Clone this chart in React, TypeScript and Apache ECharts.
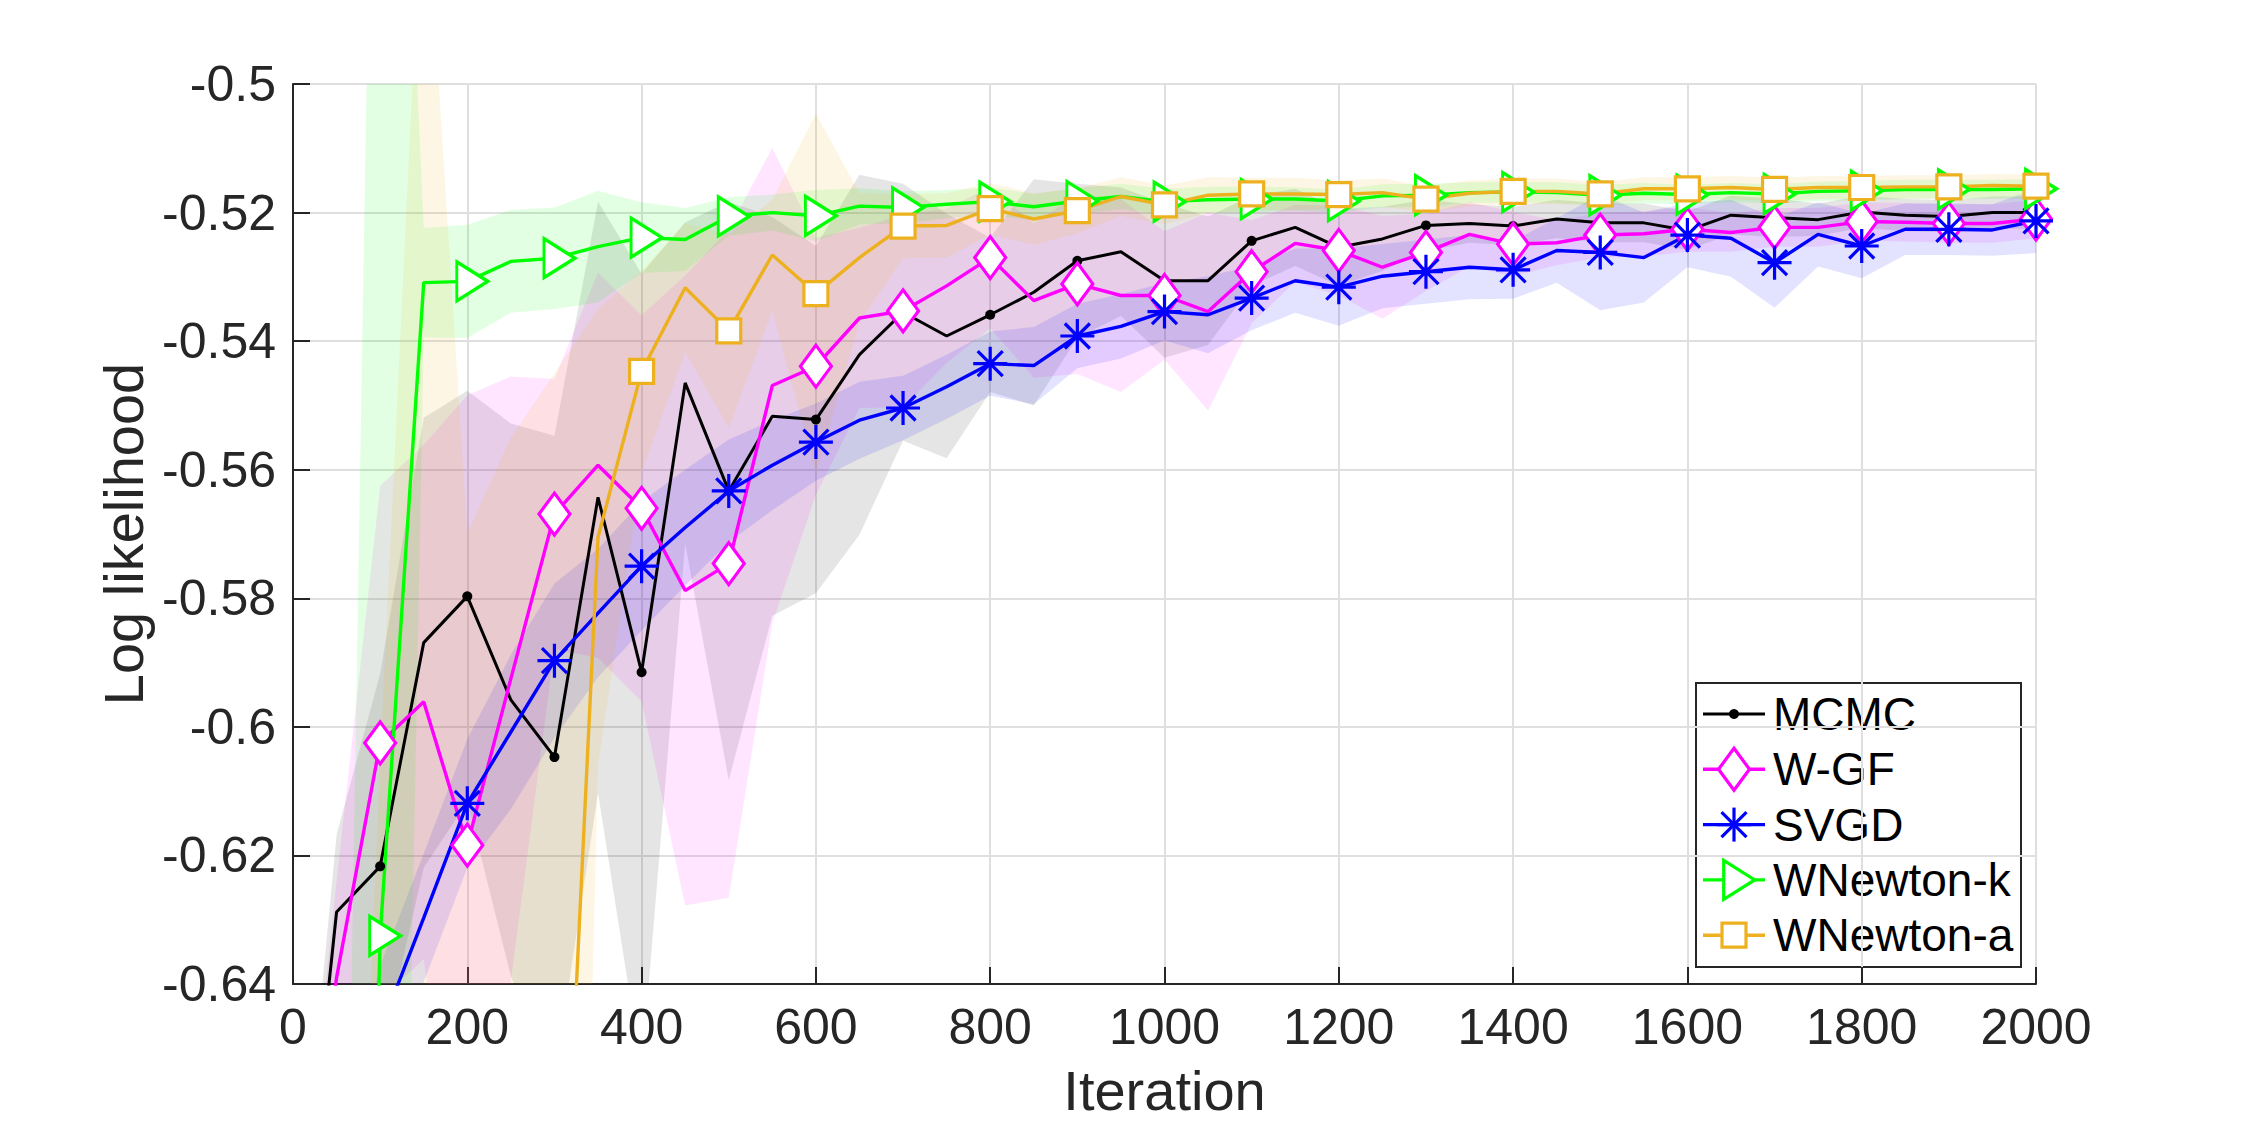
import React, { useEffect, useRef } from 'react';
import * as echarts from 'echarts';

const FONT = '"Liberation Sans", Arial, Helvetica, sans-serif';

const ITER = [0, 50, 100, 150, 200, 250, 300, 350, 400, 450, 500, 550, 600, 650, 700, 750, 800, 850, 900, 950, 1000, 1050, 1100, 1150, 1200, 1250, 1300, 1350, 1400, 1450, 1500, 1550, 1600, 1650, 1700, 1750, 1800, 1850, 1900, 1950, 2000];

const X_TICK_STEP = 200;
const Y_TICKS = { min: -0.64, max: -0.5, interval: 0.02 };

const MCMC_MEAN = [-0.693, -0.6288, -0.6217, -0.5869, -0.5797, -0.5958, -0.6047, -0.5643, -0.5915, -0.5465, -0.5633, -0.5517, -0.5522, -0.5421, -0.5355, -0.5392, -0.5359, -0.5324, -0.5275, -0.5261, -0.5306, -0.5306, -0.5244, -0.5223, -0.5254, -0.5241, -0.5220, -0.5217, -0.5221, -0.5210, -0.5216, -0.5216, -0.5228, -0.5204, -0.5208, -0.5211, -0.5199, -0.5204, -0.5206, -0.5200, -0.5200];
const MCMC_STD = [0.005, 0.012, 0.03, 0.035, 0.032, 0.043, 0.05, 0.046, 0.062, 0.025, 0.045, 0.031, 0.027, 0.028, 0.02, 0.019, 0.012, 0.0176, 0.012, 0.01, 0.012, 0.01, 0.007, 0.006, 0.006, 0.005, 0.004, 0.003, 0.003, 0.003, 0.003, 0.003, 0.003, 0.003, 0.003, 0.0025, 0.0025, 0.0025, 0.0025, 0.0025, 0.0025];

const WGF_MEAN = [-0.693, -0.639, -0.6025, -0.5961, -0.6184, -0.5925, -0.5669, -0.5593, -0.5660, -0.5788, -0.5746, -0.5469, -0.5439, -0.5364, -0.5353, -0.5314, -0.5270, -0.5337, -0.5311, -0.5329, -0.5329, -0.5354, -0.5292, -0.5248, -0.5259, -0.5285, -0.5262, -0.5234, -0.5249, -0.5247, -0.5235, -0.5233, -0.5226, -0.5231, -0.5223, -0.5223, -0.5214, -0.5215, -0.5217, -0.5217, -0.5210];
const WGF_STD = [0.005, 0.015, 0.04, 0.04, 0.07, 0.047, 0.021, 0.03, 0.03, 0.049, 0.052, 0.037, 0.02, 0.014, 0.015, 0.012, 0.011, 0.012, 0.014, 0.015, 0.01, 0.0154, 0.008, 0.006, 0.007, 0.008, 0.006, 0.005, 0.005, 0.0035, 0.0035, 0.0035, 0.0035, 0.003, 0.003, 0.003, 0.003, 0.003, 0.003, 0.003, 0.003];

const SVGD_MEAN = [-0.693, -0.670, -0.6472, -0.6297, -0.6119, -0.6008, -0.5897, -0.5823, -0.5750, -0.5690, -0.5633, -0.5593, -0.5557, -0.5523, -0.5504, -0.5471, -0.5435, -0.5438, -0.5392, -0.5377, -0.5354, -0.5359, -0.5333, -0.5306, -0.5316, -0.5299, -0.5292, -0.5285, -0.5289, -0.5259, -0.5262, -0.5270, -0.5235, -0.5240, -0.5278, -0.5234, -0.5252, -0.5226, -0.5226, -0.5227, -0.5213];
const SVGD_STD = [0.005, 0.008, 0.01, 0.01, 0.01, 0.012, 0.012, 0.01, 0.01, 0.009, 0.008, 0.007, 0.006, 0.006, 0.005, 0.005, 0.005, 0.006, 0.005, 0.005, 0.0045, 0.006, 0.005, 0.005, 0.006, 0.005, 0.005, 0.005, 0.0045, 0.005, 0.009, 0.007, 0.005, 0.006, 0.007, 0.005, 0.005, 0.004, 0.004, 0.004, 0.005];

const WNK_MEAN = [-0.693, -0.92, -0.6325, -0.5309, -0.5307, -0.5276, -0.5271, -0.5253, -0.5239, -0.5242, -0.5206, -0.5200, -0.5205, -0.5190, -0.5192, -0.5187, -0.5183, -0.5191, -0.5182, -0.5175, -0.5183, -0.5180, -0.5179, -0.5179, -0.5182, -0.5174, -0.5173, -0.5169, -0.5168, -0.5169, -0.5173, -0.5170, -0.5172, -0.5169, -0.5171, -0.5167, -0.5166, -0.5164, -0.5164, -0.5164, -0.5163];
const WNK_STD = [0.005, 0.14, 0.26, 0.0085, 0.0088, 0.008, 0.0079, 0.0087, 0.0055, 0.0049, 0.003, 0.0028, 0.004, 0.0028, 0.0025, 0.0022, 0.0022, 0.002, 0.002, 0.002, 0.002, 0.002, 0.002, 0.0018, 0.0018, 0.0018, 0.0018, 0.0016, 0.0016, 0.0016, 0.0016, 0.0016, 0.0015, 0.0015, 0.0015, 0.0015, 0.0015, 0.0015, 0.0015, 0.0015, 0.0015];

const WNA_MEAN = [-0.693, -0.80, -0.78, -0.75, -0.78, -0.75, -0.711, -0.5705, -0.5447, -0.5317, -0.5384, -0.5266, -0.5326, -0.5270, -0.5221, -0.5220, -0.5194, -0.5210, -0.5197, -0.5175, -0.5188, -0.5173, -0.5171, -0.5171, -0.5172, -0.5169, -0.5179, -0.5170, -0.5167, -0.5167, -0.5171, -0.5163, -0.5163, -0.5161, -0.5164, -0.5161, -0.5161, -0.5160, -0.5160, -0.5158, -0.5159];
const WNA_STD = [0.005, 0.03, 0.175, 0.287, 0.21, 0.195, 0.166, 0.0355, 0.0157, 0.01, 0.015, 0.0086, 0.028, 0.01, 0.005, 0.005, 0.004, 0.004, 0.0035, 0.003, 0.003, 0.0028, 0.0025, 0.0025, 0.0022, 0.0022, 0.002, 0.002, 0.002, 0.002, 0.0018, 0.0018, 0.0018, 0.0018, 0.0018, 0.0018, 0.0018, 0.0018, 0.0018, 0.0018, 0.0018];

const MARKER_STEP = 100;

const ASTERISK = 'path://M0,17L34,17M17,0L17,34M4.5,4.5L29.5,29.5M29.5,4.5L4.5,29.5';
const TRIANGLE_R = 'path://M0,0L31,19.5L0,39Z';

type Method = {
  name: string;
  mean: number[];
  std: number[];
  color: string;
  kind: string;
  symbol: string;
  size: number | number[];
  offset: number[];
  fill: string;
  border: number;
  width: number;
  bandOpacity: number;
};

const METHODS: Method[] = [
  { name: 'MCMC', mean: MCMC_MEAN, std: MCMC_STD, color: '#000000', kind: 'dot', symbol: 'circle', size: 10, offset: [0, 0], fill: '#000000', border: 0, width: 3, bandOpacity: 0.1 },
  { name: 'W-GF', mean: WGF_MEAN, std: WGF_STD, color: '#ff00ff', kind: 'diamond', symbol: 'diamond', size: [31, 42], offset: [0, 0], fill: '#ffffff', border: 3.2, width: 3.4, bandOpacity: 0.1 },
  { name: 'SVGD', mean: SVGD_MEAN, std: SVGD_STD, color: '#0000ff', kind: 'asterisk', symbol: ASTERISK, size: 34, offset: [0, 0], fill: '#0000ff', border: 3.2, width: 3.4, bandOpacity: 0.11 },
  { name: 'WNewton-k', mean: WNK_MEAN, std: WNK_STD, color: '#00ff00', kind: 'triangle', symbol: TRIANGLE_R, size: [31, 39], offset: [5, 0], fill: '#ffffff', border: 3.2, width: 3.4, bandOpacity: 0.11 },
  { name: 'WNewton-a', mean: WNA_MEAN, std: WNA_STD, color: '#EDB120', kind: 'square', symbol: 'rect', size: 24, offset: [0, 0], fill: '#ffffff', border: 3.2, width: 3.4, bandOpacity: 0.12 },
];

// Layout (pixels)
const GRID = { left: 293, top: 84, right: 214, bottom: 141 };
const LEG = { x: 1696, y: 683, w: 325, h: 284, row0: 31, rowGap: 55.3, lineX1: 7, lineX2: 69, markX: 38, textX: 77 };

function legendMarker(m: Method, cx: number, cy: number): any {
  const stroke = m.color;
  const lw = 3.2;
  switch (m.kind) {
    case 'dot':
      return { type: 'circle', shape: { cx, cy, r: 5 }, style: { fill: stroke } };
    case 'diamond':
      return {
        type: 'polygon',
        shape: { points: [[cx, cy - 21], [cx + 15.5, cy], [cx, cy + 21], [cx - 15.5, cy]] },
        style: { fill: '#ffffff', stroke, lineWidth: lw },
      };
    case 'asterisk':
      return {
        type: 'group',
        children: [
          { type: 'line', shape: { x1: cx - 17, y1: cy, x2: cx + 17, y2: cy }, style: { stroke, lineWidth: lw } },
          { type: 'line', shape: { x1: cx, y1: cy - 17, x2: cx, y2: cy + 17 }, style: { stroke, lineWidth: lw } },
          { type: 'line', shape: { x1: cx - 12.5, y1: cy - 12.5, x2: cx + 12.5, y2: cy + 12.5 }, style: { stroke, lineWidth: lw } },
          { type: 'line', shape: { x1: cx + 12.5, y1: cy - 12.5, x2: cx - 12.5, y2: cy + 12.5 }, style: { stroke, lineWidth: lw } },
        ],
      };
    case 'triangle':
      return {
        type: 'polygon',
        shape: { points: [[cx - 10.3, cy - 19.5], [cx + 20.7, cy], [cx - 10.3, cy + 19.5]] },
        style: { fill: '#ffffff', stroke, lineWidth: lw },
      };
    default:
      return {
        type: 'rect',
        shape: { x: cx - 12, y: cy - 12, width: 24, height: 24 },
        style: { fill: '#ffffff', stroke, lineWidth: lw },
      };
  }
}

const isMajorTick = (_index: number, value: string) => Number(value) % X_TICK_STEP === 0;

function buildOption(): any {
  const series: any[] = [];
  // Per method: shaded band first, then the mean line with its markers (later methods overlay earlier ones).
  METHODS.forEach((m, k) => {
    const stackId = 'band' + k;
    series.push({
      type: 'line',
      name: m.name + '-lower',
      data: ITER.map((_x, i) => m.mean[i] - m.std[i]),
      stack: stackId,
      stackStrategy: 'all',
      symbol: 'none',
      showSymbol: false,
      lineStyle: { width: 0, opacity: 0 },
      emphasis: { disabled: true },
      silent: true,
      clip: true,
      z: 2,
    });
    series.push({
      type: 'line',
      name: m.name + '-band',
      data: ITER.map((_x, i) => 2 * m.std[i]),
      stack: stackId,
      stackStrategy: 'all',
      symbol: 'none',
      showSymbol: false,
      lineStyle: { width: 0, opacity: 0 },
      areaStyle: { color: m.color, opacity: m.bandOpacity },
      emphasis: { disabled: true },
      silent: true,
      clip: true,
      z: 2,
    });
    series.push({
      type: 'line',
      name: m.name,
      data: ITER.map((x, i) => ({
        value: m.mean[i],
        symbol: x % MARKER_STEP === 0 ? m.symbol : 'none',
      })),
      symbol: m.symbol,
      symbolSize: m.size,
      symbolOffset: m.offset,
      showSymbol: true,
      showAllSymbol: true,
      lineStyle: { color: m.color, width: m.width },
      itemStyle: { color: m.fill, borderColor: m.color, borderWidth: m.border },
      emphasis: { disabled: true },
      silent: true,
      clip: true,
      z: 2,
    });
  });

  const legendChildren: any[] = [
    {
      type: 'rect',
      shape: { x: LEG.x, y: LEG.y, width: LEG.w, height: LEG.h },
      style: { fill: '#ffffff', stroke: '#262626', lineWidth: 2 },
    },
  ];
  METHODS.forEach((m, i) => {
    const cy = LEG.y + LEG.row0 + i * LEG.rowGap;
    legendChildren.push({
      type: 'line',
      shape: { x1: LEG.x + LEG.lineX1, y1: cy, x2: LEG.x + LEG.lineX2, y2: cy },
      style: { stroke: m.color, lineWidth: m.width },
    });
    legendChildren.push(legendMarker(m, LEG.x + LEG.markX, cy));
    legendChildren.push({
      type: 'text',
      x: LEG.x + LEG.textX,
      y: cy,
      style: {
        text: m.name,
        fill: '#000000',
        fontSize: 46,
        fontFamily: FONT,
        align: 'left',
        verticalAlign: 'middle',
      },
    });
  });

  return {
    animation: false,
    backgroundColor: '#ffffff',
    grid: { ...GRID, containLabel: false, outerBoundsMode: 'none' },
    xAxis: {
      type: 'category',
      data: ITER.map(String),
      boundaryGap: false,
      name: 'Iteration',
      nameLocation: 'middle',
      nameGap: 86,
      nameTextStyle: { fontSize: 56, lineHeight: 40, color: '#262626', fontFamily: FONT },
      axisLine: { show: true, onZero: false, lineStyle: { color: '#262626', width: 2 } },
      axisTick: { show: true, inside: true, length: 17, interval: isMajorTick, lineStyle: { color: '#262626', width: 2 } },
      axisLabel: { fontSize: 50, color: '#262626', fontFamily: FONT, margin: 18, interval: isMajorTick },
      splitLine: { show: true, interval: isMajorTick, lineStyle: { color: '#dfdfdf', width: 2 } },
    },
    yAxis: {
      type: 'value',
      min: Y_TICKS.min,
      max: Y_TICKS.max,
      interval: Y_TICKS.interval,
      name: 'Log likelihood',
      nameLocation: 'middle',
      nameRotate: 90,
      nameGap: 136,
      nameTextStyle: { fontSize: 56, color: '#262626', fontFamily: FONT },
      axisLine: { show: true, onZero: false, lineStyle: { color: '#262626', width: 2 } },
      axisTick: { show: true, inside: true, length: 17, lineStyle: { color: '#262626', width: 2 } },
      axisLabel: {
        fontSize: 50,
        color: '#262626',
        fontFamily: FONT,
        margin: 17,
        formatter: (v: number) => String(parseFloat(v.toFixed(2))),
      },
      splitLine: { show: true, lineStyle: { color: '#dfdfdf', width: 2 } },
    },
    series,
    graphic: [{ type: 'group', z: 100, children: legendChildren }],
  };
}

export default function App() {
  const ref = useRef<HTMLDivElement>(null);
  useEffect(() => {
    if (!ref.current) return;
    const chart = echarts.init(ref.current, null, { renderer: 'svg' });
    chart.setOption(buildOption());
    return () => chart.dispose();
  }, []);
  return (
    <div
      ref={ref}
      style={{ position: 'absolute', left: 0, top: 0, width: 2250, height: 1125, background: '#ffffff' }}
    />
  );
}
